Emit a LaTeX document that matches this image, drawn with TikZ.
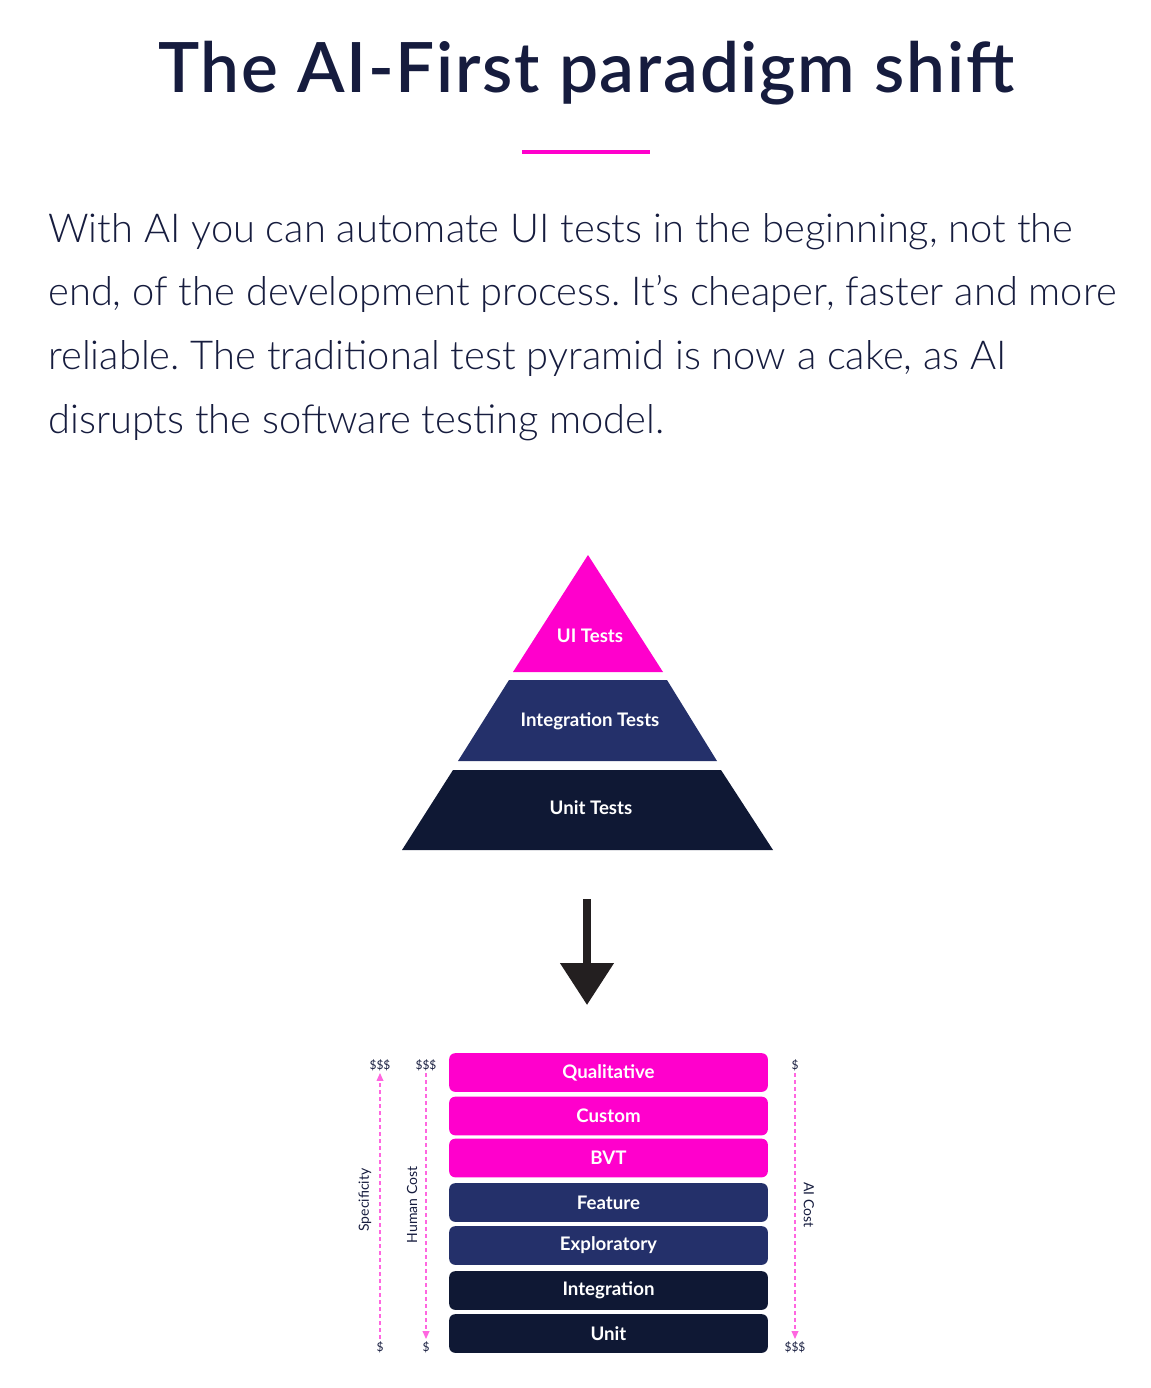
\documentclass[tikz,border=0pt]{standalone}
\usepackage{fontspec}
\setmainfont{Lato}
\newfontfamily\lightfont{Lato Light}
\newfontfamily\titlefont{Lato Semibold}[LetterSpace=2.5]
\usetikzlibrary{arrows.meta}
\definecolor{aipink}{RGB}{255,0,204}
\definecolor{ainavy}{RGB}{36,48,106}
\definecolor{aidark}{RGB}{15,24,52}
\definecolor{aitext}{RGB}{22,28,62}
\definecolor{aiarrow}{RGB}{35,31,32}
\frenchspacing

\begin{document}
\begin{tikzpicture}[x=0.75pt,y=-0.75pt,
		body/.style={anchor=base west,inner sep=0pt,text=aitext,font=\lightfont\fontsize{29.9}{36}\selectfont},
		layer/.style={text=white,font=\bfseries\fontsize{14}{16}\selectfont},
		slab/.style={rounded corners=4.5pt,minimum width=239pt,minimum height=29pt,inner sep=0pt,text=white,font=\bfseries\fontsize{14}{16}\selectfont},
		tick/.style={inner sep=1.5pt,text=aitext,font=\fontsize{9}{11}\selectfont},
		axislabel/.style={text=aitext,font=\fontsize{10.5}{12}\selectfont},
		axis/.style={aipink!60,line width=1.1pt,dash pattern=on 3pt off 2.25pt},
		>={Triangle[width=5pt,length=6pt]}]
	\useasboundingbox (0,0) rectangle (1150,1388);
	%% define heading
	\node[anchor=base,inner sep=0pt,text=aitext,font=\titlefont\fontsize{52}{60}\selectfont] (title) at (586,93) {The AI-First paradigm shift};
	\draw[aipink,line width=3pt] (522,152) -- (650,152);
	\node[body] (l1) at (48,242) {With AI you can automate UI tests in the beginning, not the};
	\node[body] (l2) at (48,305) {end, of the development process. It’s cheaper, faster and more};
	\node[body] (l3) at (48,369) {reliable. The traditional test pyramid is now a cake, as AI};
	\node[body] (l4) at (48,433) {disrupts the software testing model.};
	%% define pyramid
	\fill[aipink] (588,555) -- (663,672) -- (513,672) -- cycle;
	\fill[ainavy] (509,680) -- (667,680) -- (717,761) -- (458,761) -- cycle;
	\fill[aidark] (453,770) -- (721,770) -- (773,850) -- (402,850) -- cycle;
	\node[layer] (ui) at (590,636) {UI Tests};
	\node[layer] (integ) at (590,721) {Integration Tests};
	\node[layer] (unit) at (591,808) {Unit Tests};
	%% define arrow
	\coordinate (arrtop) at (587,899);
	\coordinate (arrtip) at (587,1005);
	\draw[aiarrow,line width=6pt,-{Triangle[width=39pt,length=31.5pt]}] (arrtop) -- (arrtip);
	%% define cake
	\node[slab,fill=aipink] (qual) at (608.5,1072.5) {Qualitative};
	\node[slab,fill=aipink] (cust) at (608.5,1116) {Custom};
	\node[slab,fill=aipink] (bvt) at (608.5,1158) {BVT};
	\node[slab,fill=ainavy] (feat) at (608.5,1202.5) {Feature};
	\node[slab,fill=ainavy] (expl) at (608.5,1245.5) {Exploratory};
	\node[slab,fill=aidark] (intg) at (608.5,1290.5) {Integration};
	\node[slab,fill=aidark] (unt) at (608.5,1333.5) {Unit};
	%% define axes
	\node[tick] (spTop) at (380,1065) {\$\$\$};
	\node[tick] (spBot) at (380,1347) {\$};
	\node[tick] (hcTop) at (426,1065) {\$\$\$};
	\node[tick] (hcBot) at (426,1347) {\$};
	\node[tick] (acTop) at (795,1065) {\$};
	\node[tick] (acBot) at (795,1347) {\$\$\$};
	\node[axislabel,rotate=90] (spLab) at (365,1200) {Specificity};
	\node[axislabel,rotate=90] (hcLab) at (412,1205) {Human Cost};
	\node[axislabel,rotate=-90] (acLab) at (809,1205) {AI Cost};
	\draw[axis,->] (spBot) -- (spTop);
	\draw[axis,->] (hcTop) -- (hcBot);
	\draw[axis,->] (acTop) -- (acBot);
\end{tikzpicture}
\end{document}
